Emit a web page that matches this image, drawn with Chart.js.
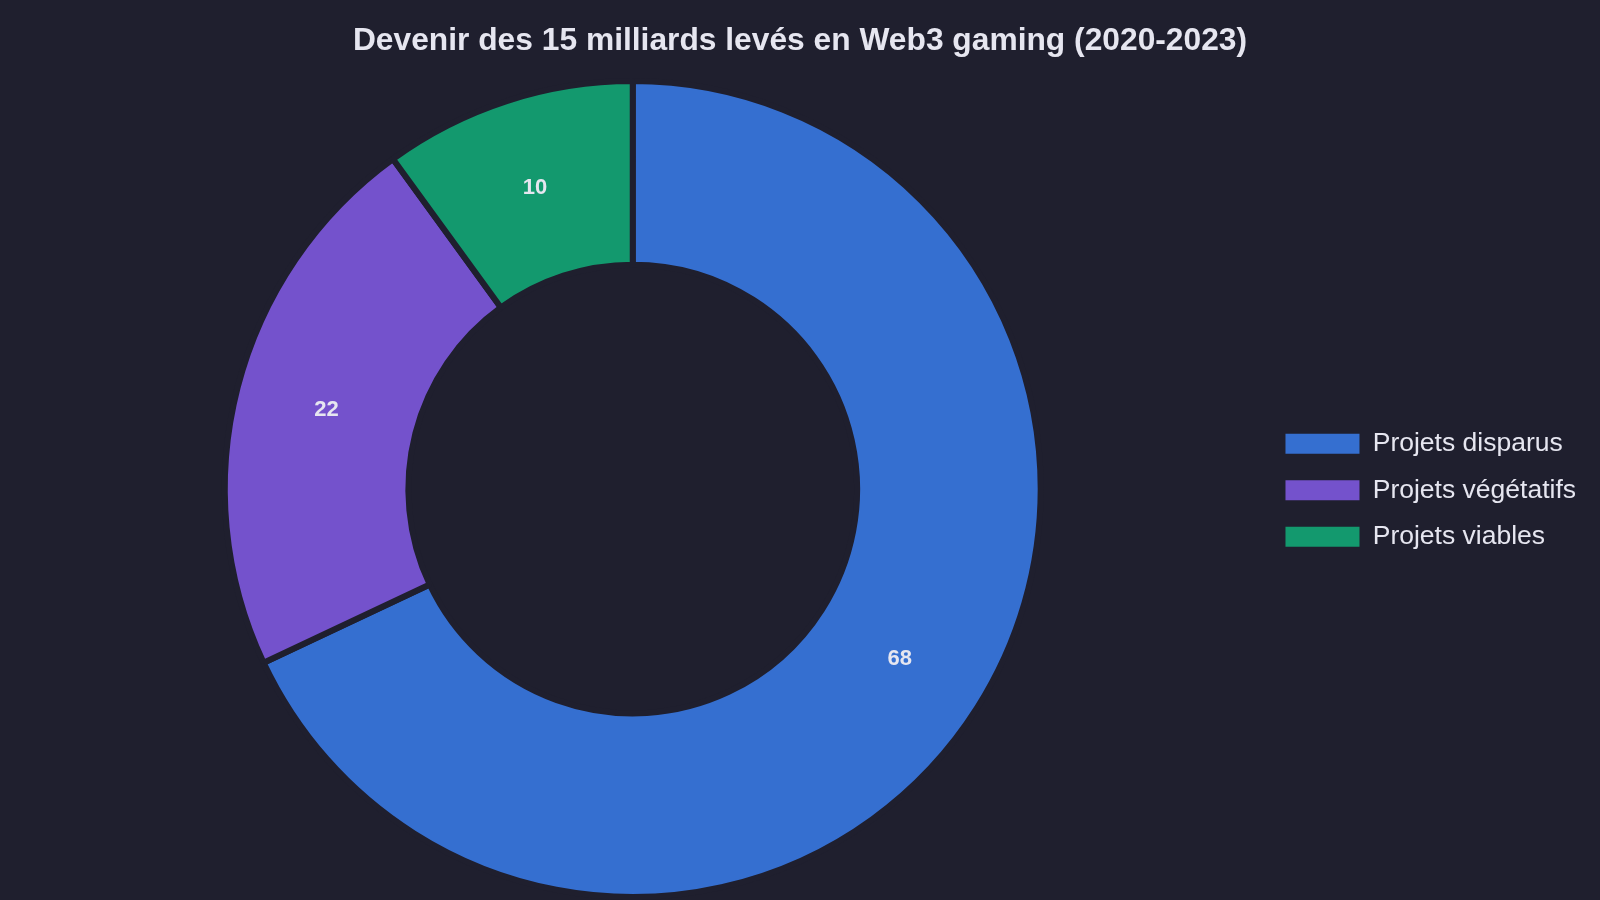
<!DOCTYPE html>
<html lang="fr">
<head>
<meta charset="utf-8">
<title>Devenir des 15 milliards levés en Web3 gaming</title>
<script src="https://cdn.jsdelivr.net/npm/chart.js@4.4.1/dist/chart.umd.min.js"></script>
<style>
    html, body { margin: 0; padding: 0; background: #1f1f2e; }
    #wrap { width: 1600px; height: 900px; }
</style>
</head>
<body>
<div id="wrap"><canvas id="donut-chart"></canvas></div>
<script>
const categories = ['Projets disparus', 'Projets végétatifs', 'Projets viables'];
const shares = [68, 22, 10];
const sliceColors = ['#356fd0', '#7452cc', '#13996e'];

const bg = '#1f1f2e';
const textColor = '#e6e6f0';
const fontFamily = '"Liberation Sans", Arial, sans-serif';

// petit plugin maison pour écrire les valeurs au centre des parts
const valueLabels = {
    id: 'valueLabels',
    afterDatasetsDraw(chart) {
        const ctx = chart.ctx;
        const meta = chart.getDatasetMeta(0);
        ctx.save();
        ctx.font = 'bold 22px ' + fontFamily;
        ctx.fillStyle = textColor;
        ctx.textAlign = 'center';
        ctx.textBaseline = 'middle';
        meta.data.forEach((arc, i) => {
            const pos = arc.tooltipPosition();
            ctx.fillText(String(chart.data.datasets[0].data[i]), pos.x, pos.y);
        });
        ctx.restore();
    }
};

// un peu de marge à droite de la légende, sans décaler le titre
const legendMargin = {
    id: 'legendMargin',
    beforeInit(chart) {
        const fit = chart.legend.fit;
        chart.legend.fit = function() {
            fit.bind(chart.legend)();
            this.width += 14;
        };
    }
};

const ctx = document.getElementById('donut-chart').getContext('2d');

new Chart(ctx, {
    type: 'doughnut',
    data: {
        labels: categories,
        datasets: [{
            data: shares,
            backgroundColor: sliceColors,
            borderColor: bg,
            borderWidth: 6,
            hoverOffset: 0
        }]
    },
    options: {
        responsive: true,
        maintainAspectRatio: false,
        animation: false,
        cutout: '55%',
        layout: {
            padding: 0
        },
        plugins: {
            title: {
                display: true,
                text: 'Devenir des 15 milliards levés en Web3 gaming (2020-2023)',
                color: textColor,
                font: { family: fontFamily, size: 31.75, weight: 'bold' },
                padding: { top: 22, bottom: 18 }
            },
            legend: {
                position: 'right',
                // titre vide : sert juste à recentrer les items sur l'anneau
                title: {
                    display: true,
                    text: '',
                    font: { size: 12 },
                    padding: { top: 66, bottom: 0 }
                },
                labels: {
                    color: textColor,
                    font: { family: fontFamily, size: 26.5 },
                    boxWidth: 74,
                    boxHeight: 20,
                    padding: 20,
                    generateLabels(chart) {
                        const items = Chart.controllers.doughnut.overrides.plugins.legend.labels.generateLabels(chart);
                        items.forEach(it => { it.lineWidth = 0; });
                        return items;
                    }
                }
            },
            tooltip: { enabled: false }
        }
    },
    plugins: [valueLabels, legendMargin]
});
</script>
</body>
</html>
